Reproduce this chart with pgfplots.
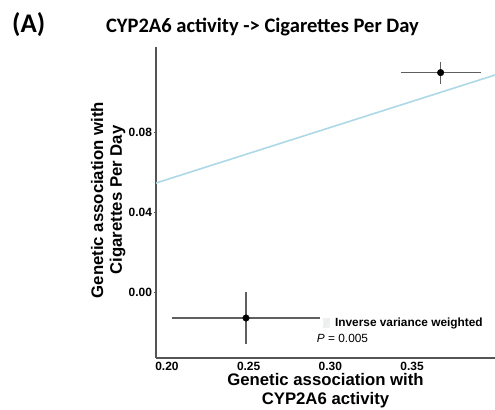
\documentclass[border=0pt]{standalone}
\usepackage{pgfplots}
\pgfplotsset{compat=1.18}
\usepackage{fontspec}
\setmainfont{Liberation Sans}
\newfontfamily\calibri{Carlito}
\definecolor{ivw}{RGB}{173,216,230}
\definecolor{axgray}{RGB}{85,85,85}
\definecolor{errgray}{RGB}{95,95,95}
\begin{document}
\begin{tikzpicture}[x=1bp,y=1bp]
\useasboundingbox (0,0) rectangle (495,409);
\node[anchor=base west, inner sep=0, font=\calibri\bfseries\fontsize{27}{30}\selectfont] at (12,377) {(A)};
\node[anchor=base, inner sep=0, font=\calibri\bfseries\fontsize{20.6}{24}\selectfont] at (262.5,377) {CYP2A6 activity -> Cigarettes Per Day};
\begin{axis}[
  at={(156bp,51bp)}, anchor=south west,
  scale only axis, width=339bp, height=311bp,
  xmin=0.1933, xmax=0.4008, ymin=-0.033, ymax=0.1225,
  axis x line*=bottom, axis y line*=left,
  axis line style={-, axgray, line width=1.4bp},
  xtick={0.20,0.25,0.30,0.35}, ytick={0,0.04,0.08},
  tick align=outside, major tick length=2bp,
  xtick style={draw=none},
  ytick style={axgray, line width=0.6bp},
  /pgf/number format/assume math mode=true,
  /pgf/number format/.cd, fixed, fixed zerofill, precision=2, /pgfplots/.cd,
  xticklabel={\bfseries\pgfmathprintnumber{\tick}},
  yticklabel={\bfseries\pgfmathprintnumber{\tick}},
  ticklabel style={font=\bfseries\fontsize{12}{13}\selectfont},
  yticklabel style={xshift=1.5bp},
  xticklabel style={yshift=1bp},
  xlabel={Genetic association with\\CYP2A6 activity},
  xlabel style={align=center, font=\bfseries\fontsize{16.8}{19}\selectfont, at={(axis description cs:0.5,-0.106)}, anchor=center},
  ylabel={Genetic association with\\Cigarettes Per Day},
  ylabel style={align=center, font=\bfseries\fontsize{16.8}{19}\selectfont, at={(axis description cs:-0.141,0.508)}, anchor=center},
]
\addplot[ivw, line width=1.6bp] coordinates {(0.1933,0.0545) (0.4008,0.1085)};
\addplot[only marks, mark=*, mark size=3.3bp, black,
  error bars/.cd, x dir=both, x explicit, y dir=both, y explicit,
  error mark=none, error bar style={errgray, line width=1.3bp}]
  coordinates {(0.2484,-0.013) +- (0.0453,0.013) (0.3675,0.1097) +- (0.0245,0.0055)};
\fill[gray!12] (axis cs:0.2953,-0.018) rectangle (axis cs:0.2996,-0.013);
\draw[ivw!40, line width=0.6bp] (axis cs:0.2955,-0.018) -- (axis cs:0.2994,-0.013);
\node[anchor=west, inner sep=0, font=\bfseries\fontsize{11.9}{13}\selectfont] at (axis cs:0.3028,-0.0155) {Inverse variance weighted};
\node[anchor=west, inner sep=0, font=\fontsize{11.9}{13}\selectfont] at (axis cs:0.2917,-0.0232) {\textit{P} = 0.005};
\end{axis}
\end{tikzpicture}
\end{document}
